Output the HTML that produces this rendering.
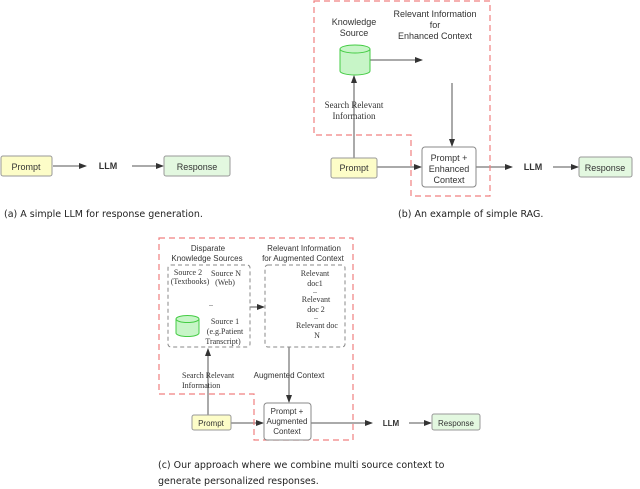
<!DOCTYPE html>
<html><head><style>body{margin:0;background:#fff}svg{display:block}</style></head><body>
<svg width="640" height="489" viewBox="0 0 640 489" xmlns="http://www.w3.org/2000/svg" font-family="Liberation Sans, sans-serif" font-size="9" fill="#333">
<defs><marker id="a" markerWidth="8" markerHeight="6" refX="7" refY="3" orient="auto" markerUnits="userSpaceOnUse"><path d="M0,0L8,3L0,6z" fill="#333"/></marker></defs>
<g stroke="#555" stroke-width="1" fill="none" marker-end="url(#a)">
<line x1="53" y1="166" x2="86" y2="166"/><line x1="132" y1="166" x2="163" y2="166"/>
<line x1="370" y1="60" x2="422" y2="60"/><line x1="452" y1="83" x2="452" y2="146"/>
<line x1="354" y1="158" x2="354" y2="76"/><line x1="377" y1="167" x2="421" y2="167"/>
<line x1="476" y1="167" x2="512" y2="167"/><line x1="553" y1="167" x2="578" y2="167"/>
<line x1="250" y1="307" x2="264" y2="307"/><line x1="289" y1="347" x2="289" y2="402"/>
<line x1="208" y1="415" x2="208" y2="349"/><line x1="231" y1="423" x2="263" y2="423"/>
<line x1="311" y1="423" x2="372" y2="423"/><line x1="409" y1="423" x2="431" y2="423"/>
</g>
<g stroke="#f08080" stroke-width="1.2" stroke-dasharray="6,4" fill="none">
<path d="M314,1H490V196H411V135H314Z"/>
<path d="M159,238H353V440H254V394H159Z"/>
</g>
<g stroke="#888" stroke-dasharray="4,3" fill="none">
<rect x="168" y="265" width="82" height="82" rx="3"/><rect x="265" y="265" width="80" height="82" rx="3"/>
</g>
<rect x="1" y="156" width="51" height="20" rx="2" fill="#fdfdc8" stroke="#999"/>
<rect x="164" y="156" width="66" height="20" rx="2" fill="#e3f8e0" stroke="#999"/>
<rect x="331" y="158" width="46" height="20" rx="2" fill="#fdfdc8" stroke="#999"/>
<rect x="579" y="157" width="53" height="20" rx="2" fill="#e3f8e0" stroke="#999"/>
<rect x="422" y="147" width="54" height="40" rx="3" fill="#fff" stroke="#888"/>
<rect x="192" y="415" width="39" height="15" rx="2" fill="#fdfdc8" stroke="#999"/>
<rect x="432" y="414" width="48" height="16" rx="2" fill="#e3f8e0" stroke="#999"/>
<rect x="264" y="403" width="47" height="37" rx="3" fill="#fff" stroke="#888"/>
<g fill="#c7f5c7" stroke="#4c4">
<path d="M340,49V71A15,4 0 0 0 370,71V49"/><ellipse cx="355" cy="49" rx="15" ry="4"/>
<path d="M176,319V333A11.5,3.5 0 0 0 199,333V319"/><ellipse cx="187.5" cy="319" rx="11.5" ry="3.5"/>
</g>
<g text-anchor="middle">
<text x="26" y="170">Prompt</text><text x="108" y="169" font-weight="bold">LLM</text><text x="197" y="170">Response</text>
<text x="354" y="25">Knowledge</text><text x="354" y="36">Source</text>
<text x="435" y="17">Relevant Information</text><text x="435" y="28">for</text><text x="435" y="39">Enhanced Context</text>
<text x="354" y="171">Prompt</text><text x="449" y="161">Prompt +</text><text x="449" y="172">Enhanced</text><text x="449" y="183">Context</text>
<text x="533" y="170" font-weight="bold">LLM</text><text x="605" y="171">Response</text>
<g font-family="Liberation Serif, serif"><text x="354" y="108">Search Relevant</text><text x="354" y="119">Information</text></g>
<g font-size="8"><text x="208" y="251">Disparate</text><text x="207" y="261">Knowledge Sources</text>
<text x="304" y="251">Relevant Information</text><text x="303" y="261">for Augmented Context</text>
<text x="289" y="378">Augmented Context</text>
<text x="211" y="426">Prompt</text><text x="287" y="414">Prompt +</text><text x="287" y="424">Augmented</text><text x="287" y="434">Context</text>
<text x="391" y="426" font-weight="bold">LLM</text><text x="456" y="426">Response</text></g>
<g font-family="Liberation Serif, serif" font-size="8"><text x="188" y="275">Source 2</text><text x="190" y="284">(Textbooks)</text>
<text x="226" y="276">Source N</text><text x="225" y="285">(Web)</text><text x="211" y="306">..</text>
<text x="225" y="324">Source 1</text><text x="225" y="334">(e.g.Patient</text><text x="223" y="344">Transcript)</text>
<text x="315" y="276">Relevant</text><text x="315" y="286">doc1</text><text x="315" y="293">..</text><text x="316" y="302">Relevant</text><text x="316" y="312">doc 2</text><text x="316" y="319">..</text><text x="317" y="328">Relevant doc</text><text x="317" y="338">N</text></g>
</g>
<g font-family="Liberation Serif, serif" font-size="8"><text x="182" y="378">Search Relevant</text><text x="182" y="388">Information</text></g>
<g font-family="DejaVu Sans, sans-serif" font-size="9.5" fill="#222">
<text x="4" y="217">(a) A simple LLM for response generation.</text>
<text x="398" y="217">(b) An example of simple RAG.</text>
<text x="158" y="468">(c) Our approach where we combine multi source context to</text>
<text x="158" y="484">generate personalized responses.</text></g>
</svg>
</body></html>
